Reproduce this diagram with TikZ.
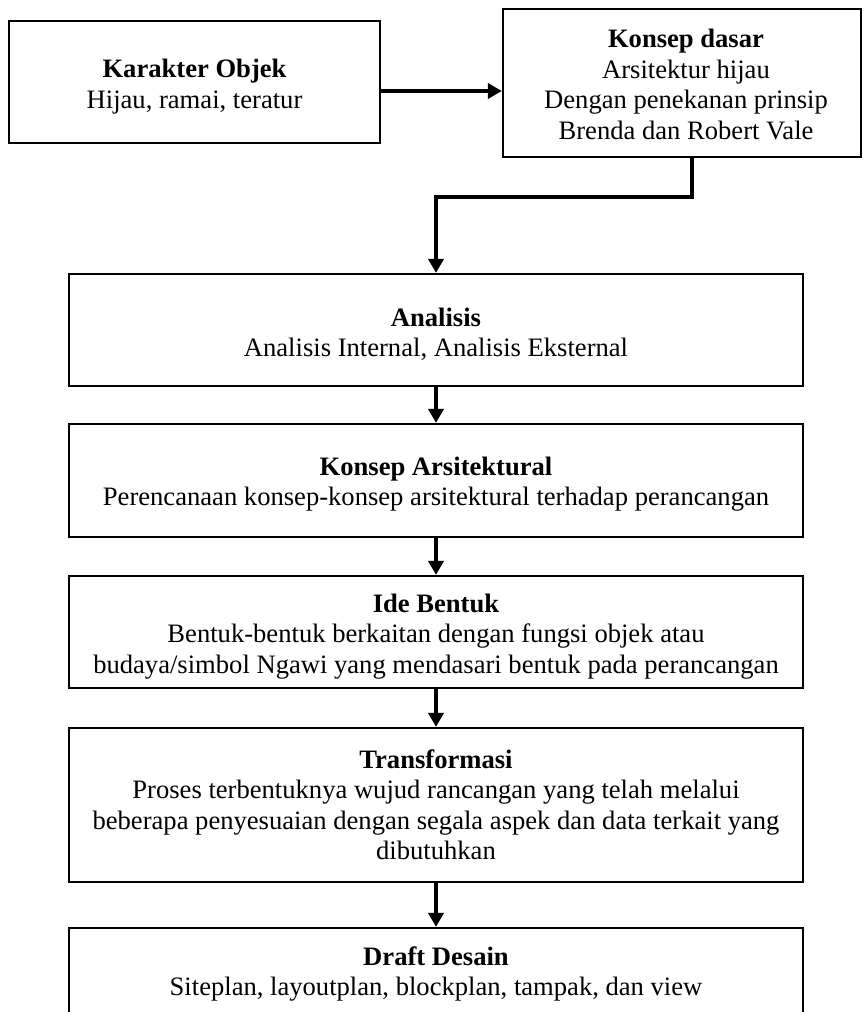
\documentclass[tikz,border=0pt]{standalone}
\usepackage{fontspec}
\setmainfont{Liberation Serif}
\usetikzlibrary{arrows.meta}
\begin{document}
\begin{tikzpicture}[x=1pt,y=-1pt,
  box/.style={draw, line width=2.2pt, inner sep=0pt, rectangle},
  txt/.style={anchor=north, inner sep=0pt, align=center, font=\fontsize{26.6}{30.5}\selectfont},
  arr/.style={line width=3.5pt, -{Triangle[length=14pt,width=15pt]}},
]
\useasboundingbox (0,0) rectangle (863,1012);
\clip (0,0) rectangle (863,1012);
\fill[white] (0,0) rectangle (863,1012);

% boxes
\node[box, minimum width=371pt, minimum height=122pt] (b1) at (194.5,82) {};
\node[box, minimum width=358pt, minimum height=148pt] (b2) at (682,83) {};
\node[box, minimum width=734pt, minimum height=112pt] (an) at (436,330) {};
\node[box, minimum width=734pt, minimum height=113pt] (ka) at (436,480.5) {};
\node[box, minimum width=734pt, minimum height=112pt] (ib) at (436,632) {};
\node[box, minimum width=734pt, minimum height=154pt] (tr) at (436,805) {};
\node[box, minimum width=734pt, minimum height=112pt] (dd) at (436,984) {};

% texts
\node[txt] (t1) at (194.5,56) {\strut\textbf{Karakter Objek}\\Hijau, ramai, teratur};
\node[txt] (t2) at (686,26.3) {\strut\textbf{Konsep dasar}\\Arsitektur hijau\\Dengan penekanan prinsip\\Brenda dan Robert Vale};
\node[txt] (t3) at (436,304.6) {\strut\textbf{Analisis}\\Analisis Internal, Analisis Eksternal};
\node[txt] (t4) at (436,453.6) {\strut\textbf{Konsep Arsitektural}\\Perencanaan konsep-konsep arsitektural terhadap perancangan};
\node[txt] (t5) at (436,590.6) {\strut\textbf{Ide Bentuk}\\Bentuk-bentuk berkaitan dengan fungsi objek atau\\budaya/simbol Ngawi yang mendasari bentuk pada perancangan};
\node[txt] (t6) at (436,746.6) {\strut\textbf{Transformasi}\\Proses terbentuknya wujud rancangan yang telah melalui\\beberapa penyesuaian dengan segala aspek dan data terkait yang\\dibutuhkan};
\node[txt] (t7) at (436,943.6) {\strut\textbf{Draft Desain}\\Siteplan, layoutplan, blockplan, tampak, dan view};

% connectors
\coordinate (turn) at (692,197);
\draw[arr] ([yshift=-9pt]b1.east) -- ([yshift=-9pt]b1.east -| b2.west);
\draw[arr] (b2.south -| turn) -- (turn) -| (an.north);
\draw[arr] (an.south) -- (ka.north);
\draw[arr] (ka.south) -- (ib.north);
\draw[arr] (ib.south) -- (tr.north);
\draw[arr] (tr.south) -- (dd.north);
\end{tikzpicture}
\end{document}
